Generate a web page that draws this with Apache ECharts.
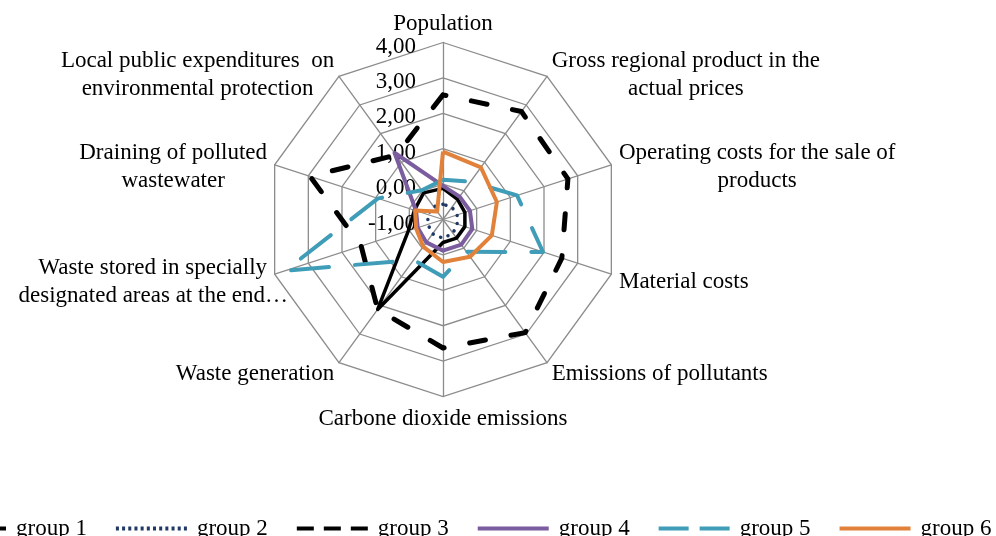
<!DOCTYPE html>
<html><head><meta charset="utf-8">
<script src="https://cdn.jsdelivr.net/npm/echarts@6/dist/echarts.min.js"></script>
<style>html,body{margin:0;padding:0;background:#fff;overflow:hidden}#c{width:996px;height:536px}</style>
</head><body><div id="c"></div>
<script>
// ---- data (clockwise from the top) ----
const indicators = [
  "Population",
  "Gross regional product in the\nactual prices",
  "Operating costs for the sale of\nproducts",
  "Material costs",
  "Emissions of pollutants",
  "Carbone dioxide emissions",
  "Waste generation",
  "Waste stored in specially\ndesignated areas at the end…",
  "Draining of polluted\nwastewater",
  "Local public expenditures  on\nenvironmental protection"
];
const tickLabels = ["-1,00", "0,00", "1,00", "2,00", "3,00", "4,00"];
const axisMin = -1;
const axisMax = 4;
const groupNames = ["group 1", "group 2", "group 3", "group 4", "group 5", "group 6"];
const group1 = [-0.12, -0.30, -0.35, -0.35, -0.35, -0.35, 2.14, 0.03, -0.15, -0.07];
const group2 = [-0.57, -0.57, -0.58, -0.58, -0.52, -0.47, -0.50, -0.55, -0.55, -0.55];
const group3 = [2.52, 2.77, 2.71, 2.53, 2.95, 2.63, 2.14, 1.43, 2.95, 1.25];
const group4 = [-0.05, -0.20, -0.20, -0.13, -0.12, -0.12, -0.20, -0.25, -0.20, 1.33];
const group5 = [0.12, 0.32, 1.20, 1.97, 0.13, 0.62, 0.41, 3.69, 0.93, 0.02];
const group6 = [0.92, 0.82, 0.60, 0.45, 0.30, 0.20, -0.05, -0.20, -0.17, -0.72];

// ---- styles ----
const FONT = 'Liberation Serif';
const colors = ['#000000', '#1f3864', '#000000', '#7b5c9e', '#3f9db8', '#e2823a'];
const lineStyles = [
  {color: colors[0], width: 3.5, type: 'solid'},
  {color: colors[1], width: 3.5, type: [0.1, 8], cap: 'round'},
  {color: colors[2], width: 5, type: [16, 26], cap: 'round'},
  {color: colors[3], width: 4, type: 'solid'},
  {color: colors[4], width: 4, type: [38, 26], cap: 'round'},
  {color: colors[5], width: 4, type: 'solid'}
];
const groups = [group1, group2, group3, group4, group5, group6];

// ECharts lays indicators out counter-clockwise: reorder so they run clockwise
const order = [0];
for (let i = indicators.length - 1; i >= 1; i--) order.push(i);

function rects(list) {
  return 'path://' + list.map(r => `M${r[0]},0H${r[1]}V4H${r[0]}Z`).join(' ');
}
const dots = [];
for (let k = 0; k < 12; k++) { const x = +(k * 68 / 11).toFixed(2); dots.push([x, +(x + 3).toFixed(2)]); }
const icons = [
  rects([[0, 71]]),
  rects(dots),
  rects([[0, 17], [27, 44], [54, 71]]),
  rects([[0, 71]]),
  rects([[0, 30], [41, 71]]),
  rects([[0, 71]])
];

function nameLines(name) {
  const lines = name.split('\n');
  if (name === indicators[0]) return '{p|' + lines[0] + '}';
  if (name === indicators[5]) return '{b|' + lines[0] + '}';
  if (name === indicators[7]) return '{w1|' + lines[0] + '}\n{w2|' + lines[1] + '}';
  return lines.map(l => '{c|' + l + '}').join('\n');
}

const base = {color: '#000', fontFamily: FONT, fontSize: 23};
const chart = echarts.init(document.getElementById('c'), null, {renderer: 'canvas'});
chart.setOption({
  animation: false,
  backgroundColor: '#ffffff',
  legend: {
    data: groupNames.map((n, i) => ({name: n, icon: icons[i], itemStyle: {color: colors[i], borderWidth: 0}})),
    left: -70, top: 512, width: 1300,
    itemWidth: 71, itemHeight: 4, itemGap: 29,
    selectedMode: false,
    textStyle: {fontFamily: FONT, fontSize: 23, color: '#000', padding: [0, 0, 0, 5]}
  },
  radar: {
    center: [443, 219.5],
    radius: 177,
    startAngle: 90,
    shape: 'polygon',
    splitNumber: 5,
    nameGap: 8,
    indicator: order.map((k, j) => ({name: indicators[k], min: axisMin, max: axisMax, axisLabel: {show: j === 0}})),
    axisName: {
      color: '#000', fontFamily: FONT, fontSize: 23, lineHeight: 28,
      padding: [10, 0, 0, 0],
      formatter: (name) => nameLines(name),
      rich: {
        c: Object.assign({align: 'center', lineHeight: 28}, base),
        p: Object.assign({align: 'center', lineHeight: 14, padding: [0, 0, -4, 0]}, base),
        b: Object.assign({align: 'center', lineHeight: 8}, base),
        w1: Object.assign({align: 'right', lineHeight: 28}, base),
        w2: Object.assign({align: 'right', lineHeight: 28, padding: [0, -21, 0, 0]}, base)
      }
    },
    axisLine: {lineStyle: {color: '#8c8c8c', width: 1.3}},
    splitLine: {lineStyle: {color: '#8c8c8c', width: 1.3}},
    splitArea: {show: false},
    axisTick: {show: false},
    axisLabel: {
      show: true, color: '#000', fontFamily: FONT, fontSize: 23, margin: 27,
      formatter: (v) => '{t|' + tickLabels[Math.round(v - axisMin)] + '}',
      rich: {t: Object.assign({padding: [8, 0, 0, 0]}, base)}
    }
  },
  series: [{
    type: 'radar',
    symbol: 'none',
    silent: true,
    data: groups.map((g, i) => ({
      name: groupNames[i],
      value: order.map(k => g[k]),
      lineStyle: lineStyles[i],
      itemStyle: {color: colors[i]},
      areaStyle: {opacity: 0}
    }))
  }]
});
</script></body></html>
